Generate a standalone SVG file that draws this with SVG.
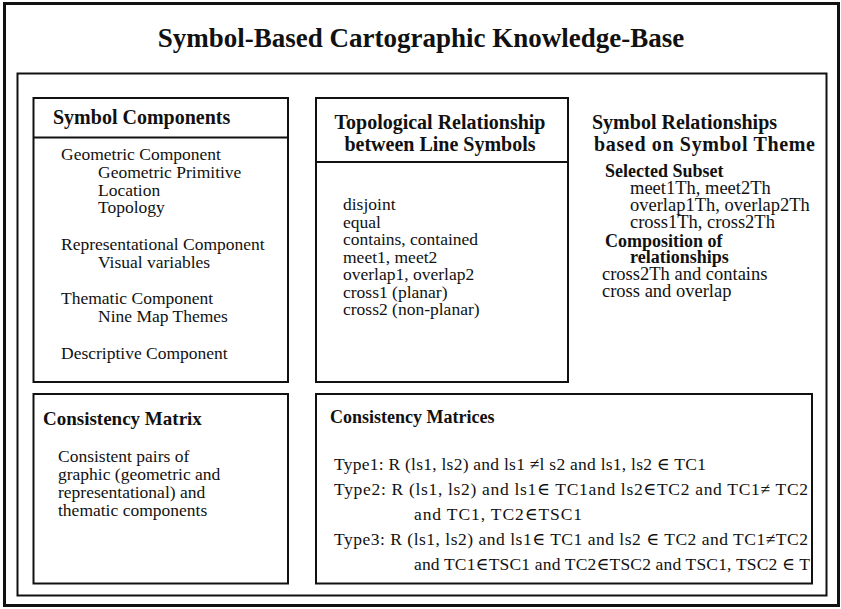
<svg xmlns="http://www.w3.org/2000/svg" width="841" height="609" viewBox="0 0 841 609">
<style>
.frame{fill:none;stroke:#111;stroke-width:2}
.t{font-family:"Liberation Serif","DejaVu Serif",serif;fill:#111;font-size:17.5px}
.r{font-size:18.5px}
.b{font-family:"Liberation Serif","DejaVu Serif",serif;fill:#111;font-weight:bold}
.h{font-size:20px}
.s{font-size:18px}
</style>
<rect width="841" height="609" fill="#fff"/>
<g id="outer">
<rect class="frame" x="4.5" y="3.5" width="834" height="602" style="stroke-width:3"/>
<text class="b" x="421" y="47" text-anchor="middle" font-size="27">Symbol-Based Cartographic Knowledge-Base</text>
</g>
<g id="inner">
<rect class="frame" x="17.5" y="73.5" width="809" height="522"/>
</g>
<g id="symbol-components">
<rect class="frame" x="33.5" y="98" width="254.5" height="284"/>
<line class="frame" x1="33.5" y1="137.5" x2="288" y2="137.5"/>
<text class="b h" x="53" y="124">Symbol Components</text>
<text class="t" x="61" y="160">Geometric Component</text>
<text class="t" x="98" y="178">Geometric Primitive</text>
<text class="t" x="98" y="195.5">Location</text>
<text class="t" x="98" y="213">Topology</text>
<text class="t" x="61" y="250">Representational Component</text>
<text class="t" x="98" y="268">Visual variables</text>
<text class="t" x="61" y="304">Thematic Component</text>
<text class="t" x="98" y="322">Nine Map Themes</text>
<text class="t" x="61" y="359">Descriptive Component</text>
</g>
<g id="topological">
<rect class="frame" x="316" y="98" width="252" height="284"/>
<line class="frame" x1="316" y1="162" x2="568" y2="162"/>
<text class="b h" x="440" y="129" text-anchor="middle">Topological Relationship</text>
<text class="b h" x="440" y="151" text-anchor="middle">between Line Symbols</text>
<text class="t" x="343" y="210">disjoint</text>
<text class="t" x="343" y="227.5">equal</text>
<text class="t" x="343" y="245">contains, contained</text>
<text class="t" x="343" y="262.5">meet1, meet2</text>
<text class="t" x="343" y="280">overlap1, overlap2</text>
<text class="t" x="343" y="297.5">cross1 (planar)</text>
<text class="t" x="343" y="315">cross2 (non-planar)</text>
</g>
<g id="symbol-relationships">
<text class="b h" x="592" y="129">Symbol Relationships</text>
<text class="b h" x="594" y="151" textLength="221">based on Symbol Theme</text>
<text class="b s" x="605" y="177">Selected Subset</text>
<text class="t r" x="630" y="194">meet1Th, meet2Th</text>
<text class="t r" x="630" y="211">overlap1Th, overlap2Th</text>
<text class="t r" x="630" y="228">cross1Th, cross2Th</text>
<text class="b s" x="605" y="247">Composition of</text>
<text class="b s" x="630" y="263">relationships</text>
<text class="t r" x="602" y="280">cross2Th and contains</text>
<text class="t r" x="602" y="297">cross and overlap</text>
</g>
<g id="consistency-matrix">
<rect class="frame" x="33.5" y="394" width="254.5" height="189.5"/>
<text class="b" x="43" y="425" font-size="19">Consistency Matrix</text>
<text class="t" x="58" y="462">Consistent pairs of</text>
<text class="t" x="58" y="480">graphic (geometric and</text>
<text class="t" x="58" y="498">representational) and</text>
<text class="t" x="58" y="516">thematic components</text>
</g>
<g id="consistency-matrices">
<rect class="frame" x="316" y="394" width="496" height="189.5"/>
<text class="b s" x="330" y="423">Consistency Matrices</text>
<text class="t" x="334" y="470" textLength="372">Type1: R (ls1, ls2) and ls1 ≠l s2 and ls1, ls2 ∈ TC1</text>
<text class="t" x="334" y="495" textLength="474">Type2: R (ls1, ls2) and ls1∈ TC1and ls2∈TC2 and TC1≠ TC2</text>
<text class="t" x="414" y="520" textLength="168">and TC1, TC2∈TSC1</text>
<text class="t" x="334" y="545" textLength="474">Type3: R (ls1, ls2) and ls1∈ TC1 and ls2 ∈  TC2 and TC1≠TC2</text>
<text class="t" x="414" y="570" textLength="396">and TC1∈TSC1 and TC2∈TSC2 and TSC1, TSC2 ∈ T</text>
</g>
<g id="connectors"></g>
</svg>
